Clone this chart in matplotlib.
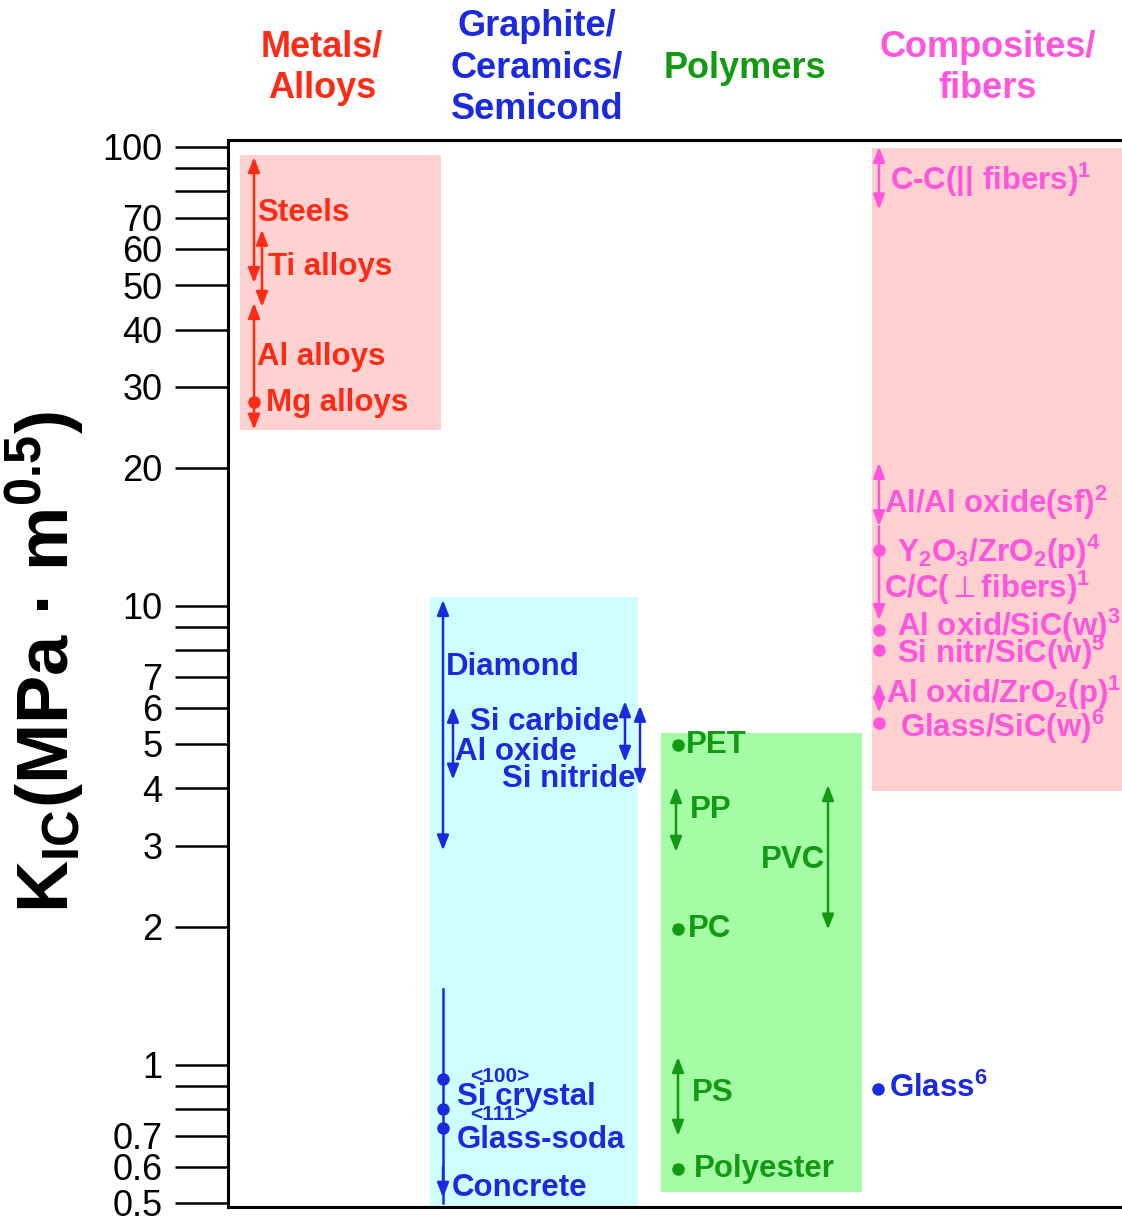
import numpy as np
import matplotlib.pyplot as plt
from matplotlib import transforms
from matplotlib.ticker import FixedLocator, NullLocator

plt.rcParams['font.family'] = ['Liberation Sans', 'DejaVu Sans']
plt.rcParams['mathtext.fontset'] = 'custom'
plt.rcParams['mathtext.rm'] = 'Liberation Sans:bold'
plt.rcParams['mathtext.it'] = 'Liberation Sans:bold'
plt.rcParams['mathtext.bf'] = 'Liberation Sans:bold'
plt.rcParams['mathtext.fallback'] = 'stixsans'

RED = '#ff2a14'
BLUE = '#1a2ae0'
GREEN = '#129a12'
MAGENTA = '#ff55dc'

# material classes (columns); x is measured in pixels from the left axis
groups = ["Metals/\nAlloys", "Graphite/\nCeramics/\nSemicond", "Polymers", "Composites/\nfibers"]
group_colors = [RED, BLUE, GREEN, MAGENTA]
box_colors = ['#ffd2d2', '#d0ffff', '#a4fca4', '#ffd0d0']
box_lo = [24.1, 0.49, 0.529, 3.95]
box_hi = [96.1, 10.46, 5.29, 99.5]

# K_IC ranges (MPa m^0.5)
metal_names = ["Steels", "Ti alloys", "Al alloys"]
metal_lo = [50.5, 44.8, 24.2]
metal_hi = [95, 66, 45.7]
mg_alloys = 27.8

ceram_names = ["Diamond", "Si carbide", "Si nitride", "Al oxide"]
ceram_lo = [2.93, 4.57, 4.07, 4.18]
ceram_hi = [10.3, 6.2, 6.06, 6.03]
concrete_lo, concrete_hi = 0.5, 1.46
si_100, si_111, glass_soda = 0.93, 0.80, 0.73

poly_names = ["PP", "PVC", "PS"]
poly_lo = [2.91, 1.97, 0.70]
poly_hi = [4.03, 4.07, 1.04]
poly_dots = {"PET": 4.98, "PC": 1.98, "Polyester": 0.593}

comp_names = ["C-C", "Al/Al oxide", "Al oxid/ZrO2"]
comp_lo = [73, 14.9, 5.85]
comp_hi = [100, 20.5, 6.8]
cc_perp_lo = 9.3
comp_dots = {"Y2O3/ZrO2": 13.2, "Al oxid/SiC": 8.87, "Si nitr/SiC": 8.02, "Glass/SiC": 5.56}
glass = 0.887

tick_vals = [0.5, 0.6, 0.7, 0.8, 0.9, 1, 2, 3, 4, 5, 6, 7, 8, 9, 10,
             20, 30, 40, 50, 60, 70, 80, 90, 100]
tick_text = ['0.5', '0.6', '0.7', '', '', '1', '2', '3', '4', '5', '6', '7', '', '', '10',
             '20', '30', '40', '50', '60', '70', '', '', '100']

W, H = 1122, 1226
fig = plt.figure(figsize=(W / 100, H / 100), dpi=100)
ax = fig.add_axes([228 / W, (H - 1207) / H, (W - 228) / W, (1207 - 140) / H])
ax.set_yscale('log')
ax.set_ylim(0.49, 103.5)
ax.set_xlim(0, W - 228)

# shaded boxes
box_x = [(12, 213), (202, 410), (433, 634), (644, 900)]
for (x0, x1), lo, hi, c in zip(box_x, box_lo, box_hi, box_colors):
    ax.fill_between([x0, x1], lo, hi, color=c, lw=0, zorder=0)

# headers
trans = transforms.blended_transform_factory(ax.transData, fig.transFigure)
header_x = [94, 309, 517, 760]
for name, x, c in zip(groups, header_x, group_colors):
    ax.text(x, 1 - 68 / H, name, transform=trans, ha='center', va='center',
            color=c, fontsize=26, fontweight='bold', linespacing=1.25)


def rng(x, lo, hi, c, style='<|-|>'):
    ax.annotate('', xy=(x, hi), xytext=(x, lo),
                arrowprops=dict(arrowstyle=style + ',head_length=0.9,head_width=0.35',
                                color=c, lw=1.8, shrinkA=0, shrinkB=0))


def dot(x, v, c):
    ax.plot([x], [v], 'o', ms=8, color=c, zorder=3)


def lab(x, v, s, c, size=22.5, ha='left'):
    ax.text(x, v, s, color=c, fontsize=size, fontweight='bold', ha=ha, va='center')


# metals
metal_x = [26, 34, 26]
for x, lo, hi in zip(metal_x, metal_lo, metal_hi):
    rng(x, lo, hi, RED)
dot(26, mg_alloys, RED)
lab(29, 71.8, "Steels", RED)
lab(40, 54.8, "Ti alloys", RED)
lab(29, 34.9, "Al alloys", RED)
lab(38, 27.7, "Mg alloys", RED)

# ceramics
ceram_x = [215, 397, 412, 225]
for x, lo, hi in zip(ceram_x, ceram_lo, ceram_hi):
    rng(x, lo, hi, BLUE)
ax.plot([215, 215], [concrete_lo, concrete_hi], color=BLUE, lw=1.8)
rng(215, 0.6, 0.513, BLUE, style='-|>')
for v in [si_100, si_111, glass_soda]:
    dot(215, v, BLUE)
lab(218, 7.36, "Diamond", BLUE)
lab(242, 5.59, "Si carbide", BLUE)
lab(227, 4.81, "Al oxide", BLUE)
lab(274, 4.20, "Si nitride", BLUE)
lab(242, 0.942, "<100>", BLUE, size=15)
lab(229, 0.852, "Si crystal", BLUE)
lab(242, 0.778, "<111>", BLUE, size=15)
lab(229, 0.687, "Glass-soda", BLUE)
lab(224, 0.540, "Concrete", BLUE)

# polymers
poly_x = [448, 600, 450]
for x, lo, hi in zip(poly_x, poly_lo, poly_hi):
    rng(x, lo, hi, GREEN)
for v in poly_dots.values():
    dot(450, v, GREEN)
lab(458, poly_dots["PET"], "PET", GREEN)
lab(462, 3.59, "PP", GREEN)
lab(597, 2.80, "PVC", GREEN, ha='right')
lab(460, poly_dots["PC"], "PC", GREEN)
lab(464, 0.869, "PS", GREEN)
lab(466, poly_dots["Polyester"], "Polyester", GREEN)

# composites
for lo, hi in zip(comp_lo, comp_hi):
    rng(651, lo, hi, MAGENTA)
rng(651, comp_lo[1], cc_perp_lo, MAGENTA, style='-|>')
for v in comp_dots.values():
    dot(651, v, MAGENTA)
lab(662, 84.8, "C-C(|| fibers)$^{1}$", MAGENTA)
lab(656, 16.8, "Al/Al oxide(sf)$^{2}$", MAGENTA)
lab(669, 13.1, "Y$_{2}$O$_{3}$/ZrO$_{2}$(p)$^{4}$", MAGENTA)
lab(656, 10.95, "C/C($\\perp$fibers)$^{1}$", MAGENTA)
lab(669, 9.05, "Al oxid/SiC(w)$^{3}$", MAGENTA)
lab(669, 7.90, "Si nitr/SiC(w)$^{5}$", MAGENTA)
lab(658, 6.46, "Al oxid/ZrO$_{2}$(p)$^{11}$", MAGENTA)
lab(672, 5.45, "Glass/SiC(w)$^{6}$", MAGENTA)
dot(650, glass, BLUE)
lab(661, glass, "Glass$^{6}$", BLUE)

# axes styling
for s in ['left', 'top', 'bottom']:
    ax.spines[s].set_linewidth(2.2)
ax.spines['right'].set_visible(False)
ax.xaxis.set_visible(False)
ax.yaxis.set_major_locator(FixedLocator(tick_vals))
ax.yaxis.set_minor_locator(NullLocator())
ax.set_yticklabels(tick_text)
ax.tick_params(axis='y', direction='out', length=38, width=1.8, pad=9, labelsize=26)

fig.text(45 / W, 1 - 662 / H, "K$_{\\mathrm{IC}}$(MPa \u00b7 m$^{0.5}$)", rotation=90,
         ha='center', va='center', fontsize=52, fontweight='bold')

fig.savefig('out.png', dpi=100)
